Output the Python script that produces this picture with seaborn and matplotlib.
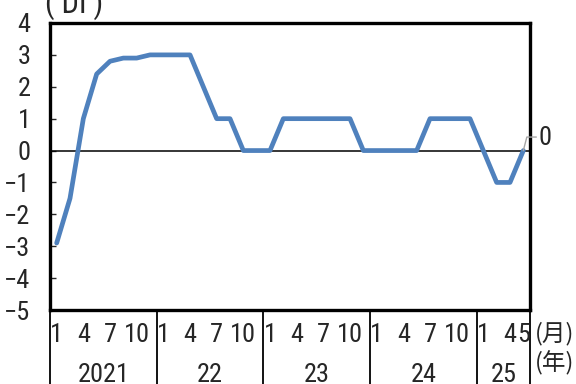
import numpy as np
import pandas as pd
import seaborn as sns
import matplotlib
matplotlib.use("Agg")
import matplotlib.pyplot as plt
from matplotlib import font_manager
from matplotlib.font_manager import FontProperties
from matplotlib.lines import Line2D
import matplotlib.transforms as mtransforms

# ---- data ----
years = ["2021", "22", "23", "24", "25"]
points_per_year = [8, 8, 8, 8, 4]
month_labels = ["1", "", "4", "", "7", "", "10", "",
                "1", "", "4", "", "7", "", "10", "",
                "1", "", "4", "", "7", "", "10", "",
                "1", "", "4", "", "7", "", "10", "",
                "1", "", "4", "5"]
di_values = [-2.9, -1.5, 1.0, 2.4, 2.8, 2.9, 2.9, 3.0,
             3.0, 3.0, 3.0, 2.0, 1.0, 1.0, 0.0, 0.0,
             0.0, 1.0, 1.0, 1.0, 1.0, 1.0, 1.0, 0.0,
             0.0, 0.0, 0.0, 0.0, 1.0, 1.0, 1.0, 1.0,
             0.0, -1.0, -1.0, 0.0]
y_ticks = [-5, -4, -3, -2, -1, 0, 1, 2, 3, 4]

df = pd.DataFrame({"idx": np.arange(len(di_values)), "di": di_values})

sns.set_style("white")
plt.rcParams["font.family"] = ["Noto Sans CJK JP", "DejaVu Sans"]

# choose a condensed font for numbers if one is installed
fs = 19
cond_path = None
entries = font_manager.fontManager.ttflist
def is_regular(f):
    return f.style == "normal" and f.weight in (400, "normal", "regular", "book")
prefs = [
    lambda f: f.name == "Liberation Sans Narrow",
    lambda f: f.name == "Roboto Condensed",
    lambda f: f.name == "DejaVu Sans" and f.stretch in ("condensed", "semi-condensed"),
    lambda f: "Condensed" in f.name or "Narrow" in f.name,
    lambda f: f.stretch in ("condensed", "semi-condensed", "extra-condensed"),
]
for p in prefs:
    hits = [f for f in entries if p(f) and is_regular(f)]
    if hits:
        cond_path = hits[0].fname
        break
if cond_path:
    numfp = FontProperties(fname=cond_path, size=fs)
    difp = FontProperties(fname=cond_path, size=fs + 3)
else:
    numfp = FontProperties(family="DejaVu Sans", size=fs - 3)
    difp = FontProperties(family="DejaVu Sans", size=fs)
cjkfp = FontProperties(family="Noto Sans CJK JP", size=fs - 2)

W, H = 576, 384
fig = plt.figure(figsize=(W / 100, H / 100), dpi=100)
ax_l, ax_r, ax_t, ax_b = 50, 530, 23, 310
ax = fig.add_axes([ax_l / W, 1 - ax_b / H, (ax_r - ax_l) / W, (ax_b - ax_t) / H])

sns.lineplot(data=df, x="idx", y="di", ax=ax, color="#4F81BD", linewidth=3.4)
ax.axhline(0, color="black", linewidth=1.1, zorder=1)

n = len(di_values)
ax.set_xlim(-0.5, n - 0.5)
ax.set_ylim(-5, 4)
ax.set_xlabel("")
ax.set_ylabel("")

for s in ax.spines.values():
    s.set_visible(True)
    s.set_color("black")
    s.set_linewidth(2.4)

ax.set_yticks(y_ticks)
ax.set_yticklabels([("\u2212" + str(-v)) if v < 0 else str(v) for v in y_ticks])
for t in ax.get_yticklabels():
    t.set_fontproperties(numfp)
ax.tick_params(axis="y", direction="in", length=4, width=1, pad=14, left=True)
ax.set_xticks([])

trans = mtransforms.blended_transform_factory(ax.transData, ax.transAxes)
axh = ax_b - ax_t
y_month = -(335 - ax_b) / axh
y_year = -(375 - ax_b) / axh

for i, lab in enumerate(month_labels):
    if lab:
        ax.text(i, y_month, lab, transform=trans, ha="center", va="center",
                fontproperties=numfp)

start = 0
bounds = [-0.5]
for yr, cnt in zip(years, points_per_year):
    ax.text(start + (cnt - 1) / 2, y_year, yr, transform=trans, ha="center",
            va="center", fontproperties=numfp)
    start += cnt
    bounds.append(start - 0.5)
for b in bounds:
    ax.add_line(Line2D([b, b], [0, -0.4], transform=trans, color="black",
                       linewidth=1.3, clip_on=False))

fig.text(555 / W, 1 - 334 / H, "(月)", ha="center", va="center", fontproperties=cjkfp)
fig.text(555 / W, 1 - 363 / H, "(年)", ha="center", va="center", fontproperties=cjkfp)
fig.text(74 / W, 1 - 4 / H, "( DI )", ha="center", va="center", fontproperties=difp)

# data label for last point
px, py = ax.transData.transform((n - 1, di_values[-1]))
leader_x = [px, px + 3.5, px + 13]
leader_y = [py, py + 13.5, py + 13.5]
fig.add_artist(Line2D(leader_x, leader_y, transform=mtransforms.IdentityTransform(),
                      color="#A6A6A6", linewidth=1.0))
fig.text((px + 22) / W, (py + 13) / H, f"{di_values[-1]:g}", ha="center", va="center",
         fontproperties=numfp)

fig.savefig("out.png", dpi=100)
